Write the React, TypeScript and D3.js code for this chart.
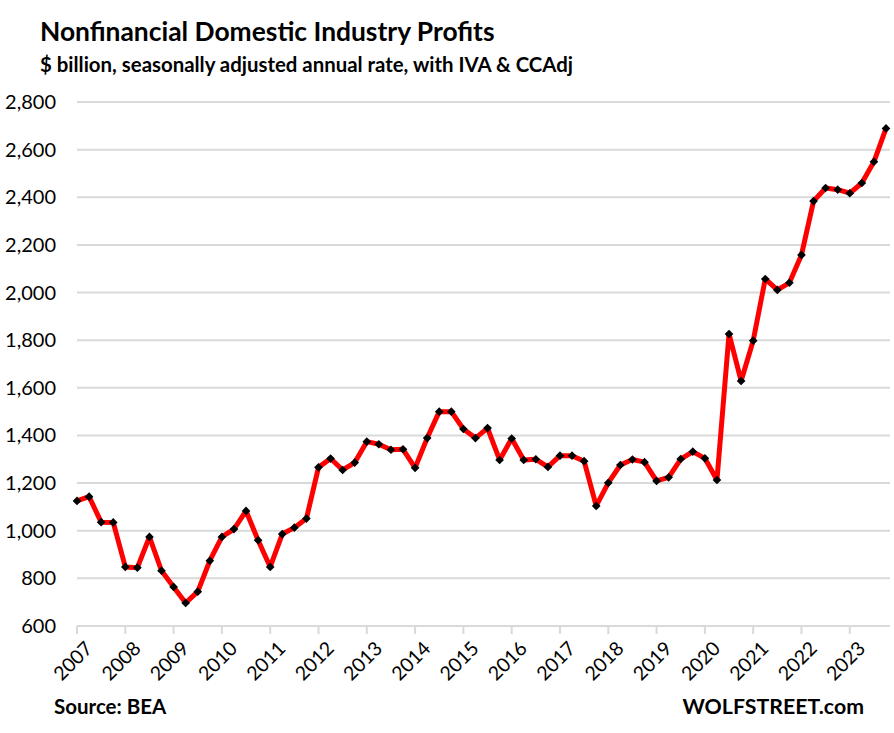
import React, { useEffect, useRef } from 'react';
import * as d3 from 'd3';

// quarterly values, 2007Q1 .. 2023Q4 ($ billion, SAAR)
const profits: number[] = [
  1125, 1143, 1036, 1035, // 2007
  848, 845, 974, 832, // 2008
  764, 697, 744, 874, // 2009
  974, 1007, 1083, 960, // 2010
  848, 986, 1013, 1051, // 2011
  1266, 1303, 1255, 1286, // 2012
  1374, 1363, 1340, 1342, // 2013
  1264, 1389, 1500, 1500, // 2014
  1427, 1389, 1431, 1297, // 2015
  1387, 1297, 1300, 1268, // 2016
  1315, 1315, 1292, 1104, // 2017
  1201, 1276, 1299, 1288, // 2018
  1209, 1224, 1301, 1332, // 2019
  1304, 1213, 1826, 1629, // 2020
  1798, 2057, 2011, 2041, // 2021
  2158, 2384, 2439, 2432, // 2022
  2417, 2460, 2549, 2689, // 2023
];

const years: string[] = [
  '2007', '2008', '2009', '2010', '2011', '2012', '2013', '2014', '2015',
  '2016', '2017', '2018', '2019', '2020', '2021', '2022', '2023',
];

const yTicks: number[] = [600, 800, 1000, 1200, 1400, 1600, 1800, 2000, 2200, 2400, 2600, 2800];

const W = 894;
const H = 733;
const font = 'Lato, "Noto Sans", sans-serif';

const App: React.FC = () => {
  const svgRef = useRef<SVGSVGElement | null>(null);

  useEffect(() => {
    document.body.style.margin = '0';
    const svgEl = svgRef.current;
    if (!svgEl) return;
    const svg = d3.select(svgEl);
    svg.selectAll('*').remove();

    const left = 77;
    const right = 890;
    const x = d3.scaleLinear().domain([0, profits.length - 1]).range([left, 886]);
    const y = d3.scaleLinear().domain([600, 2800]).range([626, 102]);

    // titles
    svg.append('text')
      .attr('x', 40).attr('y', 41)
      .attr('font-family', font).attr('font-weight', 700).attr('font-size', 26.4)
      .attr('fill', '#000')
      .text('Nonfinancial Domestic Industry Profits');
    svg.append('text')
      .attr('x', 40).attr('y', 72)
      .attr('font-family', font).attr('font-weight', 700).attr('font-size', 20.4)
      .attr('fill', '#000')
      .text('$ billion, seasonally adjusted annual rate, with IVA & CCAdj');

    // gridlines
    svg.append('g')
      .selectAll('line')
      .data(yTicks)
      .join('line')
      .attr('x1', left).attr('x2', right)
      .attr('y1', (d) => y(d)).attr('y2', (d) => y(d))
      .attr('stroke', '#d9d9d9').attr('stroke-width', 2);

    // y labels
    const fmt = d3.format(',');
    svg.append('g')
      .selectAll('text')
      .data(yTicks)
      .join('text')
      .attr('x', 56).attr('y', (d) => y(d))
      .attr('dy', '0.35em')
      .attr('text-anchor', 'end')
      .attr('font-family', font).attr('font-size', 20)
      .attr('fill', '#000')
      .text((d) => fmt(d));

    // x tick marks + labels
    const yearIdx = years.map((_, i) => i * 4);
    svg.append('g')
      .selectAll('line')
      .data(yearIdx)
      .join('line')
      .attr('x1', (d) => x(d)).attr('x2', (d) => x(d))
      .attr('y1', 626).attr('y2', 634)
      .attr('stroke', '#d9d9d9').attr('stroke-width', 2);

    svg.append('g')
      .selectAll('text')
      .data(years)
      .join('text')
      .attr('transform', (_, i) => `translate(${x(i * 4) + 7},${640}) rotate(-45)`)
      .attr('text-anchor', 'end')
      .attr('dy', '0.7em')
      .attr('font-family', font).attr('font-size', 19.5)
      .attr('fill', '#000')
      .text((d) => d);

    // line
    const line = d3.line<number>()
      .x((_, i) => x(i))
      .y((d) => y(d));
    svg.append('path')
      .datum(profits)
      .attr('d', line)
      .attr('fill', 'none')
      .attr('stroke', '#ff0000')
      .attr('stroke-width', 5)
      .attr('stroke-linejoin', 'round');

    // diamond markers
    const diamond = d3.symbol().type(d3.symbolDiamond2).size(48);
    svg.append('g')
      .selectAll('path')
      .data(profits)
      .join('path')
      .attr('transform', (d, i) => `translate(${x(i)},${y(d)})`)
      .attr('d', diamond as any)
      .attr('fill', '#000');

    // footer
    svg.append('text')
      .attr('x', 54).attr('y', 714)
      .attr('font-family', font).attr('font-weight', 700).attr('font-size', 20.5)
      .attr('fill', '#000')
      .text('Source: BEA');
    svg.append('text')
      .attr('x', 864).attr('y', 714)
      .attr('text-anchor', 'end')
      .attr('font-family', font).attr('font-weight', 700).attr('font-size', 21.3)
      .attr('fill', '#000')
      .text('WOLFSTREET.com');
  }, []);

  return (
    <svg ref={svgRef} width={W} height={H} style={{ display: 'block', background: '#fff' }} />
  );
};

export default App;
